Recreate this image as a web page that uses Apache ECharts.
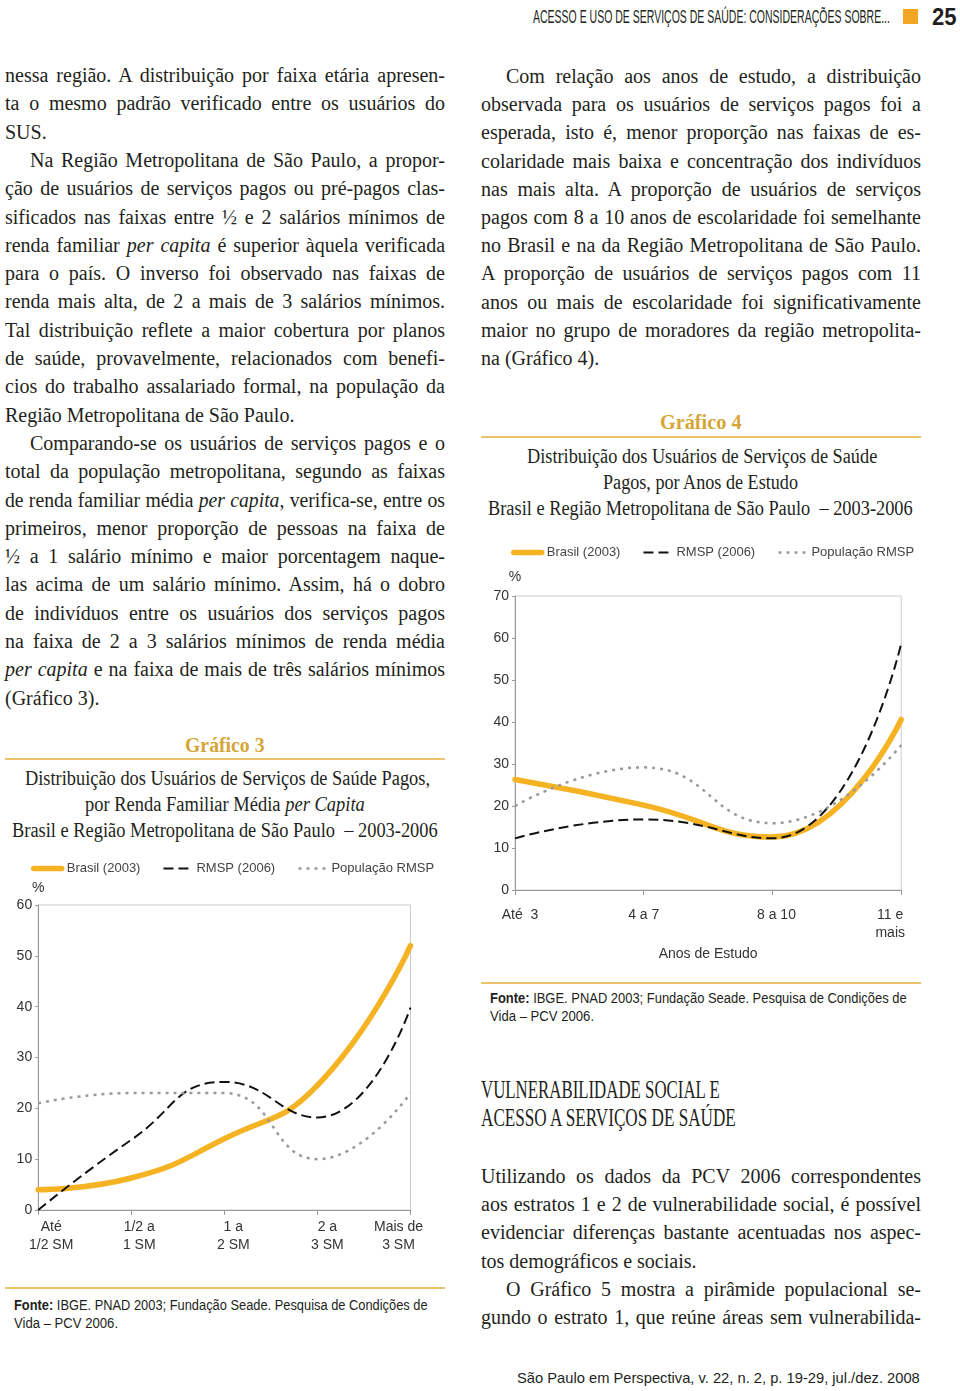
<!DOCTYPE html>
<html><head><meta charset="utf-8">
<script src="https://cdn.jsdelivr.net/npm/echarts@6/dist/echarts.min.js"></script>
<style>
html,body{margin:0;padding:0;background:#fff;}
body{width:960px;height:1391px;position:relative;overflow:hidden;font-family:"Liberation Serif",serif;color:#231f20;}
.abs{position:absolute;white-space:nowrap;line-height:1.2;}
.bl{position:absolute;white-space:nowrap;font-family:"Liberation Serif",serif;font-size:20px;line-height:28px;height:28px;color:#231f20;}
.rule{position:absolute;height:2px;background:#E9C46A;}
#c3{position:absolute;left:0;top:850px;width:450px;height:410px;}
#c4{position:absolute;left:480px;top:530px;width:450px;height:440px;}
</style></head>
<body>
<div id="c3"></div>
<div id="c4"></div>
<div class="rule" style="left:5px;top:758px;width:440px;"></div>
<div class="rule" style="left:5px;top:1287px;width:440px;"></div>
<div class="rule" style="left:481px;top:436px;width:440px;"></div>
<div class="rule" style="left:481px;top:982px;width:440px;"></div>
<div style="position:absolute;left:903px;top:9px;width:15px;height:15px;background:#F2A623;"></div>
<script>
// ---------- DATA ----------
const cats3 = ['Até\n1/2 SM', '1/2 a\n1 SM', '1 a\n2 SM', '2 a\n3 SM', 'Mais de\n3 SM'];
const brasil3 = [4, 6.3, 14, 24.5, 52];
const rmsp3 = [0, 13.8, 25.2, 18.2, 39.8];
const pop3 = [21, 23, 23, 10, 23];

const cats4 = ['Até  3', '4 a 7', '8 a 10', '11 e\nmais'];
const brasil4 = [26.3, 20.2, 12.6, 40.6];
const rmsp4 = [12.3, 16.8, 12.3, 58.7];
const pop4 = [20, 29.2, 15.9, 34.5];

const seriesNames = ['Brasil (2003)', 'RMSP (2006)', 'População RMSP'];
const yTicks3 = {min: 0, max: 60, interval: 10};
const yTicks4 = {min: 0, max: 70, interval: 10};

// ---------- TEXT ----------
const leftCol = [
 ['nessa região. A distribuição por faixa etária apresen-', 1, 0],
 ['ta o mesmo padrão verificado entre os usuários do', 1, 0],
 ['SUS.', 0, 0],
 ['Na Região Metropolitana de São Paulo, a propor-', 1, 1],
 ['ção de usuários de serviços pagos ou pré-pagos clas-', 1, 0],
 ['sificados nas faixas entre ½ e 2 salários mínimos de', 1, 0],
 ['renda familiar <i>per capita</i> é superior àquela verificada', 1, 0],
 ['para o país. O inverso foi observado nas faixas de', 1, 0],
 ['renda mais alta, de 2 a mais de 3 salários mínimos.', 1, 0],
 ['Tal distribuição reflete a maior cobertura por planos', 1, 0],
 ['de saúde, provavelmente, relacionados com benefi-', 1, 0],
 ['cios do trabalho assalariado formal, na população da', 1, 0],
 ['Região Metropolitana de São Paulo.', 0, 0],
 ['Comparando-se os usuários de serviços pagos e o', 1, 1],
 ['total da população metropolitana, segundo as faixas', 1, 0],
 ['de renda familiar média <i>per capita</i>, verifica-se, entre os', 1, 0],
 ['primeiros, menor proporção de pessoas na faixa de', 1, 0],
 ['½ a 1 salário mínimo e maior porcentagem naque-', 1, 0],
 ['las acima de um salário mínimo. Assim, há o dobro', 1, 0],
 ['de indivíduos entre os usuários dos serviços pagos', 1, 0],
 ['na faixa de 2 a 3 salários mínimos de renda média', 1, 0],
 ['<i>per capita</i> e na faixa de mais de três salários mínimos', 1, 0],
 ['(Gráfico 3).', 0, 0]
];
const rightCol = [
 ['Com relação aos anos de estudo, a distribuição', 1, 1],
 ['observada para os usuários de serviços pagos foi a', 1, 0],
 ['esperada, isto é, menor proporção nas faixas de es-', 1, 0],
 ['colaridade mais baixa e concentração dos indivíduos', 1, 0],
 ['nas mais alta. A proporção de usuários de serviços', 1, 0],
 ['pagos com 8 a 10 anos de escolaridade foi semelhante', 1, 0],
 ['no Brasil e na da Região Metropolitana de São Paulo.', 1, 0],
 ['A proporção de usuários de serviços pagos com 11', 1, 0],
 ['anos ou mais de escolaridade foi significativamente', 1, 0],
 ['maior no grupo de moradores da região metropolita-', 1, 0],
 ['na (Gráfico 4).', 0, 0]
];
const rightLow = [
 ['Utilizando os dados da PCV 2006 correspondentes', 1, 0],
 ['aos estratos 1 e 2 de vulnerabilidade social, é possível', 1, 0],
 ['evidenciar diferenças bastante acentuadas nos aspec-', 1, 0],
 ['tos demográficos e sociais.', 0, 0],
 ['O Gráfico 5 mostra a pirâmide populacional se-', 1, 1],
 ['gundo o estrato 1, que reúne áreas sem vulnerabilida-', 1, 0]
];

function bodyLine(x, y, W, html, just, ind) {
  const indent = ind ? 25 : 0;
  const d = document.createElement('div');
  d.className = 'bl';
  d.innerHTML = html;
  document.body.appendChild(d);
  const nat = d.offsetWidth;
  const avail = W - indent;
  d.style.left = (x + indent) + 'px';
  d.style.top = (y - 14) + 'px';
  let s = 1, lw = avail;
  if (nat + 2 > avail) { lw = nat + 3; s = avail / lw; }
  if (just) {
    d.style.width = lw + 'px';
    d.style.whiteSpace = 'normal';
    d.style.textAlign = 'justify';
    d.style.textAlignLast = 'justify';
  }
  if (s < 1) { d.style.transformOrigin = 'left center'; d.style.transform = 'scaleX(' + s + ')'; }
}
function block(lines, x, y0, step) {
  lines.forEach((l, i) => bodyLine(x, y0 + i * step, 440, l[0], l[1], l[2]));
}
block(leftCol, 5, 75, 28.3);
block(rightCol, 481, 76, 28.2);
block(rightLow, 481, 1176, 28.2);

function fit(o) {
  const d = document.createElement('div');
  d.className = 'abs';
  Object.assign(d.style, o.style || {});
  d.innerHTML = o.html;
  document.body.appendChild(d);
  const nat = d.offsetWidth, h = d.offsetHeight;
  const s = o.w / nat;
  d.style.transformOrigin = 'left center';
  d.style.transform = 'scaleX(' + s + ')';
  d.style.left = (o.align === 'center' ? o.x - o.w / 2 : o.x) + 'px';
  d.style.top = (o.y - h / 2) + 'px';
}
const serifT = {fontFamily: '"Liberation Serif",serif', fontSize: '20px', color: '#231f20'};
const goldT = {fontFamily: '"Liberation Serif",serif', fontSize: '20px', fontWeight: 'bold', color: '#D6A537'};
const srcT = {fontFamily: '"Liberation Sans",sans-serif', fontSize: '14px', color: '#231f20'};

// header / footer
fit({x: 533, y: 18, w: 357, html: 'ACESSO E USO DE SERVIÇOS DE SAÚDE: CONSIDERAÇÕES SOBRE...', style: {fontFamily: '"Liberation Sans",sans-serif', fontSize: '18px', color: '#231f20'}});
fit({x: 932, y: 18, w: 25, html: '25', style: {fontFamily: '"Liberation Sans",sans-serif', fontSize: '23px', fontWeight: 'bold', color: '#231f20'}});
fit({x: 517, y: 1378, w: 403, html: 'São Paulo em Perspectiva, v. 22, n. 2, p. 19-29, jul./dez. 2008', style: {fontFamily: '"Liberation Sans",sans-serif', fontSize: '15px', color: '#231f20'}});

// Gráfico 3 titles
fit({x: 225, y: 745, w: 80, html: 'Gráfico 3', align: 'center', style: goldT});
fit({x: 227, y: 778, w: 405, html: 'Distribuição dos Usuários de Serviços de Saúde Pagos,', align: 'center', style: serifT});
fit({x: 225, y: 804, w: 280, html: 'por Renda Familiar Média <i>per Capita</i>', align: 'center', style: serifT});
fit({x: 225, y: 830, w: 426, html: 'Brasil e Região Metropolitana de São Paulo&nbsp; – 2003-2006', align: 'center', style: serifT});
fit({x: 14, y: 1305, w: 414, html: '<b>Fonte:</b> IBGE. PNAD 2003; Fundação Seade. Pesquisa de Condições de', style: srcT});
fit({x: 14, y: 1323, w: 104, html: 'Vida – PCV 2006.', style: srcT});

// Gráfico 4 titles
fit({x: 701, y: 422, w: 82, html: 'Gráfico 4', align: 'center', style: goldT});
fit({x: 702, y: 456, w: 350, html: 'Distribuição dos Usuários de Serviços de Saúde', align: 'center', style: serifT});
fit({x: 700, y: 482, w: 195, html: 'Pagos, por Anos de Estudo', align: 'center', style: serifT});
fit({x: 700, y: 508, w: 425, html: 'Brasil e Região Metropolitana de São Paulo&nbsp; – 2003-2006', align: 'center', style: serifT});
fit({x: 490, y: 998, w: 417, html: '<b>Fonte:</b> IBGE. PNAD 2003; Fundação Seade. Pesquisa de Condições de', style: srcT});
fit({x: 490, y: 1016, w: 104, html: 'Vida – PCV 2006.', style: srcT});

// section heading
const headT = {fontFamily: '"Liberation Serif",serif', fontSize: '25px', color: '#231f20'};
fit({x: 481, y: 1090, w: 239, html: 'VULNERABILIDADE SOCIAL E', style: headT});
fit({x: 481, y: 1118, w: 255, html: 'ACESSO A SERVIÇOS DE SAÚDE', style: headT});

// ---------- CHARTS ----------
const FONT = 'Liberation Sans';
function mkSeries(b, r, p) {
  return [
    {name: seriesNames[0], type: 'line', data: b, smooth: 0.5, symbol: 'none', z: 2,
     lineStyle: {color: '#F5B324', width: 5.5, cap: 'round'}, itemStyle: {color: '#F5B324'}},
    {name: seriesNames[1], type: 'line', data: r, smooth: 0.5, symbol: 'none', z: 3,
     lineStyle: {color: '#111111', width: 2, type: [10, 5]}, itemStyle: {color: '#111111'}},
    {name: seriesNames[2], type: 'line', data: p, smooth: 0.5, symbol: 'none', z: 4,
     lineStyle: {color: '#9a9a9a', width: 2.5, type: [3, 5]}, itemStyle: {color: '#9a9a9a'}}
  ];
}
function mkOption(cats, pads, yt, grid, legendTop, labelMargin, nameGap, xName) {
  return {
    animation: false,
    legend: {left: 26, top: legendTop, itemWidth: 28, itemHeight: 12, itemGap: 22,
      itemStyle: {opacity: 0},
      lineStyle: {width: 'inherit', type: 'inherit', color: 'inherit'},
      textStyle: {fontFamily: FONT, fontSize: 13, color: '#444'}, data: seriesNames},
    grid: Object.assign({show: true, borderColor: '#cccccc', borderWidth: 1}, grid),
    xAxis: {
      type: 'category', boundaryGap: false,
      data: cats.map((c, i) => ({value: c, textStyle: {padding: pads[i]}})),
      axisLine: {lineStyle: {color: '#999'}},
      axisTick: {show: true, length: 5, lineStyle: {color: '#999'}},
      axisLabel: {color: '#333', fontSize: 14, fontFamily: FONT, margin: labelMargin, lineHeight: 18, interval: 0},
      splitLine: {show: false},
      name: xName || '', nameLocation: 'middle', nameGap: 54,
      nameTextStyle: {color: '#333', fontSize: 14, fontFamily: FONT}
    },
    yAxis: {
      type: 'value', min: yt.min, max: yt.max, interval: yt.interval,
      name: '%', nameLocation: 'end', nameGap: nameGap,
      nameTextStyle: {color: '#333', fontSize: 14, fontFamily: FONT, align: 'center'},
      axisLine: {show: true, lineStyle: {color: '#999'}},
      axisTick: {show: true, length: 3, lineStyle: {color: '#999'}},
      axisLabel: {color: '#333', fontSize: 14, fontFamily: FONT, margin: 6},
      splitLine: {show: false}
    },
    series: null
  };
}
const o3 = mkOption(cats3, [[0,0,0,26],[0,0,0,16],[0,0,0,18],[0,0,0,20],[0,24,0,0]], yTicks3,
  {left: 33, right: 28, top: 55, bottom: 50}, 7, 8, 10, '');
o3.series = mkSeries(brasil3, rmsp3, pop3);
echarts.init(document.getElementById('c3')).setOption(o3);

const o4 = mkOption(cats4, [[0,0,0,10],[0,0,0,0],[0,0,0,8],[0,22,0,0]], yTicks4,
  {left: 35, right: 28, top: 66, bottom: 80}, 11, 16, 12, 'Anos de Estudo');
o4.series = mkSeries(brasil4, rmsp4, pop4);
echarts.init(document.getElementById('c4')).setOption(o4);
</script>
</body></html>
